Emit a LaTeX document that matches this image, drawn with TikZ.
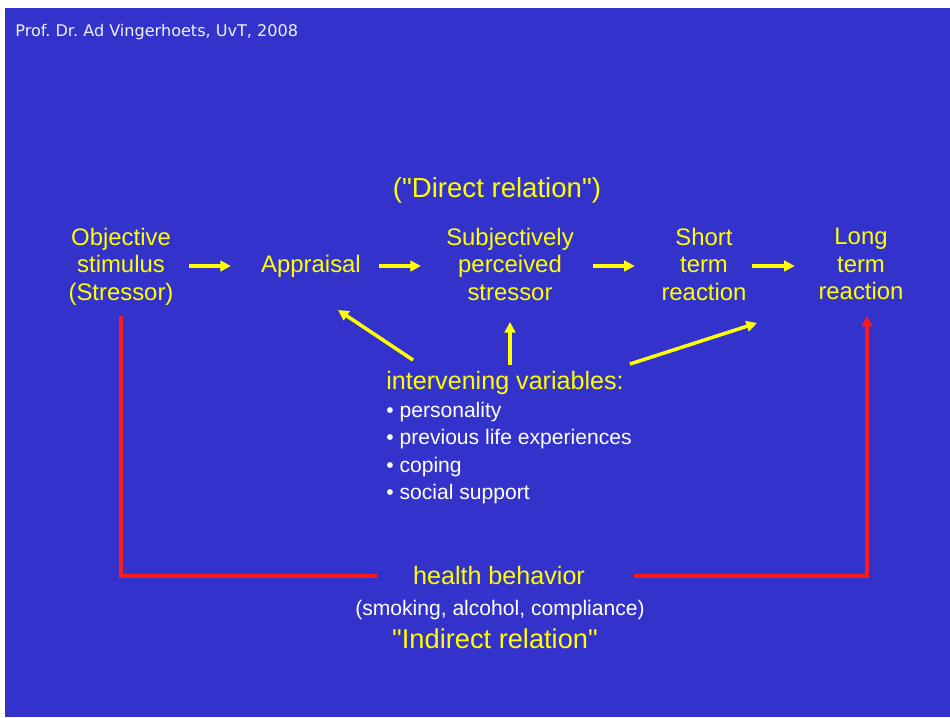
\documentclass[tikz,border=0pt]{standalone}
\usepackage{fontspec}
\setmainfont{Liberation Sans}
\newfontfamily\headfont{DejaVu Sans}
\usetikzlibrary{arrows.meta}
\frenchspacing

\definecolor{slideblue}{HTML}{3333CC}
\definecolor{slideyellow}{HTML}{FFFF00}
\definecolor{slidered}{HTML}{FF1A1A}

\tikzset{
  stage/.style={text=slideyellow, align=center, inner sep=0pt, text depth=0.22em, font=\fontsize{13.6}{15.6}\selectfont},
  flow/.style={slideyellow, line width=2pt, -{Triangle[length=6pt,width=6pt]}},
  link/.style={slidered, line width=2pt},
}

\begin{document}
\begin{tikzpicture}[x=0.02cm, y=-0.02cm]

% slide
\useasboundingbox (0,0) rectangle (950,717);
\fill[white] (0,0) rectangle (950,717);
\fill[slideblue] (5,8) rectangle (950,717);

% header
\path (15,32) node[anchor=west, inner sep=0pt, text=white!92!slideblue, font=\headfont\fontsize{9.15}{11}\selectfont] (credit) {Prof. Dr. Ad Vingerhoets, UvT, 2008};

% stages
\path (497,190) node[inner sep=0pt, text=slideyellow, font=\fontsize{15.7}{18}\selectfont] (direct) {(\textquotedbl Direct relation\textquotedbl)};
\path (121,266) node[stage] (stressor) {Objective\\stimulus\\(Stressor)};
\path (311,266) node[stage] (appraisal) {Appraisal};
\path (510,266) node[stage] (perceived) {Subjectively\\perceived\\stressor};
\path (704,266) node[stage] (short) {Short\\term\\reaction};
\path (861,266) node[stage] (long) {Long\\term\\reaction};

% chain arrows
\draw[flow, shorten <=0.31cm, shorten >=0.60cm] (stressor) -- (appraisal);
\draw[flow, shorten <=0.36cm, shorten >=0.50cm] (appraisal) -- (perceived);
\draw[flow, shorten <=0.38cm, shorten >=0.53cm] (perceived) -- (short);
\draw[flow, shorten <=0.11cm, shorten >=0.47cm] (short) -- (long);

% intervening variables
\path (386,383) node[anchor=west, inner sep=0pt, text=slideyellow, font=\fontsize{14.3}{17}\selectfont] (vars) {intervening variables:};
\path (386,402) node[anchor=north west, inner sep=0pt, align=left, text=white, font=\fontsize{12}{15.5}\selectfont] (factors) {• personality\\• previous life experiences\\• coping\\• social support};

\draw[flow] ([shift={(27,-23)}]vars.west) -- ([shift={(27,44)}]appraisal.center);
\draw[flow] ([shift={(124,-18)}]vars.west) -- ([shift={(0,56)}]perceived.center);
\draw[flow] ([shift={(244,-19)}]vars.west) -- ([shift={(53,57)}]short.center);

% indirect relation
\path (499,576) node[inner sep=0pt, text=slideyellow, font=\fontsize{14.3}{17}\selectfont] (health) {health behavior};
\path (500,610) node[inner sep=0pt, text=white, font=\fontsize{12}{14}\selectfont] (examples) {(smoking, alcohol, compliance)};
\path (495,639) node[inner sep=0pt, text=slideyellow, font=\fontsize{15.5}{18}\selectfont] (indirect) {\textquotedbl Indirect relation\textquotedbl};

\draw[link, shorten <=0.24cm, shorten >=0.72cm] (stressor.south) |- (health.west);
\draw[link, -{Triangle[length=6pt,width=6pt]}, shorten <=0.98cm, shorten >=0.24cm] (health.east) -| ([shift={(6,0)}]long.south);

\end{tikzpicture}
\end{document}
